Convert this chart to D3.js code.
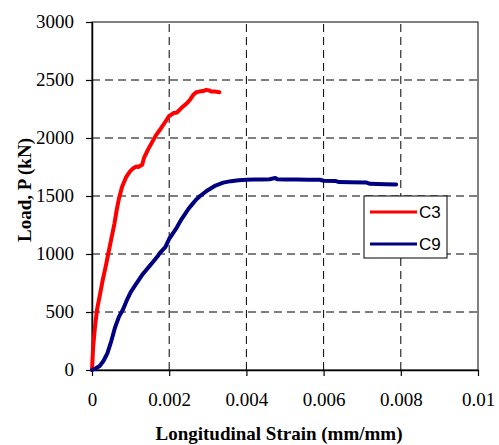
<!DOCTYPE html>
<html lang="en">
<head>
<meta charset="utf-8">
<script src="https://d3js.org/d3.v7.min.js"></script>
<style>
  body { margin: 0; background: #fff; }
  svg { display: block; }
</style>
</head>
<body>
<div id="chart"></div>
<script>

/* Data */
/* ==== */

var seriesNames = ['C3', 'C9'];
var seriesColors = ['#ff0000', '#000080'];

// C3: [strain, load]
var strainC3 = [0, 0.00003, 0.00008, 0.00013, 0.0002, 0.00028, 0.00036, 0.00042, 0.0005, 0.00058, 0.00064,
  0.0007, 0.00078, 0.00088, 0.00098, 0.00107, 0.00115, 0.0012, 0.0013, 0.00135, 0.00145, 0.00155,
  0.00165, 0.00178, 0.0019, 0.002, 0.00212, 0.0022, 0.00232, 0.00246, 0.00254, 0.00262, 0.0027,
  0.00278, 0.00288, 0.00296, 0.00304, 0.0031, 0.00318, 0.0033];
var loadC3 = [0, 200, 380, 520, 640, 780, 900, 1000, 1130, 1260, 1380,
  1480, 1580, 1660, 1710, 1740, 1755, 1750, 1770, 1830, 1900, 1960,
  2020, 2080, 2140, 2190, 2215, 2220, 2260, 2300, 2330, 2370, 2395,
  2400, 2405, 2415, 2410, 2400, 2400, 2395];

// C9: [strain, load]
var strainC9 = [0, 0.0001, 0.0002, 0.0003, 0.0004, 0.0005, 0.0006, 0.0007, 0.0008, 0.0009, 0.001,
  0.0011, 0.0012, 0.0013, 0.0014, 0.0015, 0.0016, 0.0017, 0.00176, 0.0019, 0.002, 0.0021, 0.0022,
  0.0023, 0.0024, 0.0025, 0.0026, 0.0027, 0.0028, 0.003, 0.0032, 0.0034, 0.0036, 0.0038, 0.004,
  0.0042, 0.0044, 0.0046, 0.00475, 0.0048, 0.005, 0.0053, 0.0056, 0.0059, 0.006, 0.0063, 0.0064,
  0.0067, 0.0071, 0.0072, 0.0076, 0.00788];
var loadC9 = [0, 15, 35, 80, 145, 250, 370, 460, 520, 600, 670,
  720, 770, 820, 860, 900, 940, 980, 1010, 1060, 1130, 1180, 1230,
  1290, 1340, 1390, 1430, 1470, 1500, 1550, 1590, 1615, 1628, 1635, 1640,
  1642, 1642, 1645, 1655, 1645, 1643, 1642, 1640, 1640, 1632, 1630, 1620,
  1618, 1617, 1605, 1602, 1600];

var xTicks = [0, 0.002, 0.004, 0.006, 0.008, 0.01];
var xTickLabels = ['0', '0.002', '0.004', '0.006', '0.008', '0.01'];
var yTicks = [0, 500, 1000, 1500, 2000, 2500, 3000];


/* Setup */
/* ===== */

var width = 499,
    height = 445,
    margin = { top: 22, right: 21, bottom: 75, left: 92 };

var svg = d3.select('#chart').append('svg')
    .attr('width', width)
    .attr('height', height);

var x = d3.scaleLinear()
    .domain([0, 0.01])
    .range([margin.left, width - margin.right]);

var y = d3.scaleLinear()
    .domain([0, 3000])
    .range([height - margin.bottom, margin.top]);


/* Grid */
/* ==== */

svg.append('g')
  .selectAll('line')
  .data(xTicks.slice(1, -1))
  .join('line')
    .attr('x1', d => x(d)).attr('x2', d => x(d))
    .attr('y1', y(0)).attr('y2', y(3000))
    .attr('stroke', '#000')
    .attr('stroke-width', 1)
    .attr('stroke-dasharray', '8,5');

svg.append('g')
  .selectAll('line')
  .data(yTicks.slice(1, -1))
  .join('line')
    .attr('x1', x(0)).attr('x2', x(0.01))
    .attr('y1', d => y(d)).attr('y2', d => y(d))
    .attr('stroke', '#000')
    .attr('stroke-width', 1)
    .attr('stroke-dasharray', '8,5');

// frame (top and right)
svg.append('rect')
    .attr('x', x(0)).attr('y', y(3000))
    .attr('width', x(0.01) - x(0)).attr('height', y(0) - y(3000))
    .attr('fill', 'none')
    .attr('stroke', '#000')
    .attr('stroke-width', 1);


/* Axes */
/* ==== */

var xAxis = svg.append('g')
    .attr('transform', 'translate(0,' + y(0) + ')')
    .call(d3.axisBottom(x).tickValues(xTicks).tickFormat((d, i) => xTickLabels[i]).tickSize(6).tickSizeOuter(0));

var yAxis = svg.append('g')
    .attr('transform', 'translate(' + x(0) + ',0)')
    .call(d3.axisLeft(y).tickValues(yTicks).tickFormat(d3.format('d')).tickSize(6).tickSizeOuter(0));

[xAxis, yAxis].forEach(function(g) {
  g.select('.domain').attr('stroke', '#000').attr('stroke-width', 1.5);
  g.selectAll('.tick line').attr('stroke', '#000').attr('stroke-width', 1.2);
  g.selectAll('.tick text')
    .attr('fill', '#000')
    .style('font-family', '"Liberation Serif", "Times New Roman", serif')
    .style('font-size', '19px');
});

xAxis.selectAll('.tick text').attr('dy', '1.4em');
yAxis.selectAll('.tick text').attr('x', -18).attr('dy', '0.3em');

// Axis titles
svg.append('text')
    .attr('x', 279)
    .attr('y', 440)
    .attr('text-anchor', 'middle')
    .style('font-family', '"Liberation Serif", "Times New Roman", serif')
    .style('font-size', '19px')
    .style('font-weight', 'bold')
    .text('Longitudinal Strain (mm/mm)');

svg.append('text')
    .attr('transform', 'translate(31,190) rotate(-90)')
    .attr('text-anchor', 'middle')
    .style('font-family', '"Liberation Serif", "Times New Roman", serif')
    .style('font-size', '19px')
    .style('font-weight', 'bold')
    .text('Load, P (kN)');


/* Series */
/* ====== */

var line = d3.line()
    .x(d => x(d[0]))
    .y(d => y(d[1]));

var series = [
  d3.zip(strainC3, loadC3),
  d3.zip(strainC9, loadC9)
];

svg.append('g')
  .selectAll('path')
  .data(series)
  .join('path')
    .attr('d', line)
    .attr('fill', 'none')
    .attr('stroke', (d, i) => seriesColors[i])
    .attr('stroke-width', 4)
    .attr('stroke-linejoin', 'round')
    .attr('stroke-linecap', 'round');


/* Legend */
/* ====== */

var legend = svg.append('g').attr('transform', 'translate(364,196)');

legend.append('rect')
    .attr('width', 83).attr('height', 62)
    .attr('fill', '#fff')
    .attr('stroke', '#000')
    .attr('stroke-width', 1);

var items = legend.selectAll('g.item')
  .data(seriesNames)
  .join('g')
    .attr('class', 'item')
    .attr('transform', (d, i) => 'translate(0,' + (16 + i * 32) + ')');

items.append('line')
    .attr('x1', 6).attr('x2', 53)
    .attr('stroke', (d, i) => seriesColors[i])
    .attr('stroke-width', 3);

items.append('text')
    .attr('x', 55)
    .attr('dy', '0.35em')
    .style('font-family', '"Liberation Sans", Arial, sans-serif')
    .style('font-size', '17px')
    .text(d => d);

</script>
</body>
</html>
